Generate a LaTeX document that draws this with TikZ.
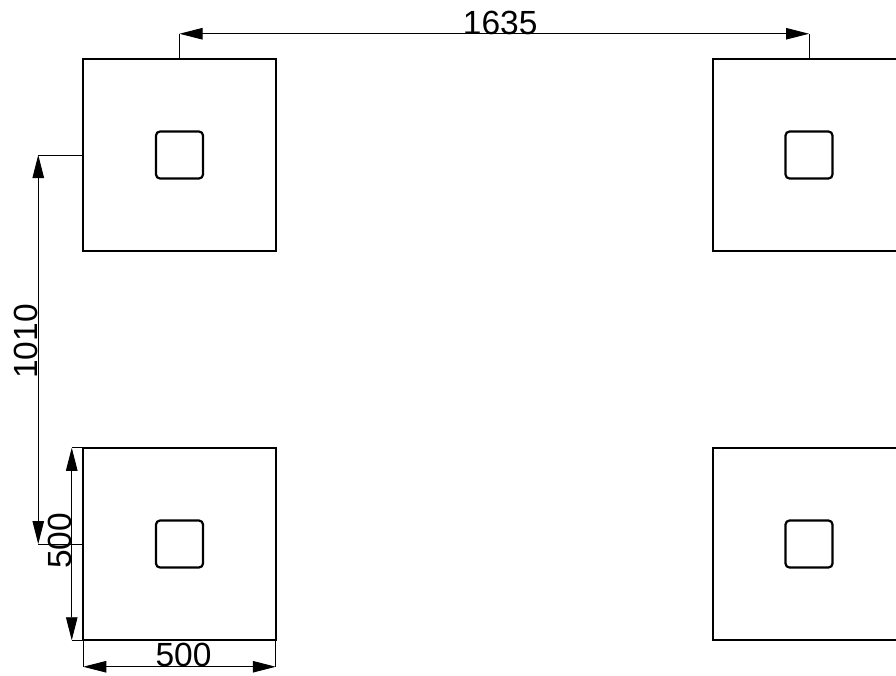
\documentclass[tikz,border=0pt]{standalone}
\usepackage{fontspec}
\setmainfont{Liberation Sans}
\usetikzlibrary{arrows.meta, calc}

\begin{document}
\begin{tikzpicture}[
            >={Triangle[width=11.5pt,length=23pt]},
                footing/.style = {rectangle, draw=black, line width=2.2pt,
                            minimum size=192.5pt, inner sep=0pt, outer sep=0pt},
                column/.style = {rectangle, rounded corners=4pt, draw=black, line width=2.2pt,
                            minimum size=47pt, inner sep=0pt, outer sep=0pt},
                dimline/.style = {draw=black, line width=0.9pt},
                dimtext/.style = {font=\fontsize{33.5}{33.5}\selectfont, inner sep=0pt, outer sep=0pt},
            node distance=389pt]
            \useasboundingbox (0pt,0pt) rectangle (896pt,-675pt);
            \clip (0pt,0pt) rectangle (896pt,-675pt);
            \node (fa) [footing] at (179.5pt,-155pt) {};
            \node (fb) [footing] at (809pt,-155pt) {};
            \node (fc) [footing, below of=fa] {};
            \node (fd) [footing, below of=fb] {};
            \node (ca) [column] at (fa) {};
            \node (cb) [column] at (fb) {};
            \node (cc) [column] at (fc) {};
            \node (cd) [column] at (fd) {};
            \coordinate (topl) at ([yshift=25pt]fa.north);
            \coordinate (topr) at ([yshift=25pt]fb.north);
            \coordinate (leftu) at ([xshift=-45pt]fa.west);
            \coordinate (leftd) at ([xshift=-45pt]fc.west);
            \coordinate (sideu) at ([xshift=-11.5pt]fc.north west);
            \coordinate (sided) at ([xshift=-11.5pt]fc.south west);
            \coordinate (botl) at ([yshift=-26.5pt]fc.south west);
            \coordinate (botr) at ([yshift=-26.5pt]fc.south east);
            \draw[dimline] (fa.north) -- (topl);
            \draw[dimline] (fb.north) -- (topr);
            \draw[dimline] (fa.west) -- (leftu);
            \draw[dimline] (fc.west) -- (leftd);
            \draw[dimline] (fc.north west) -- (sideu);
            \draw[dimline] (fc.south west) -- (sided);
            \draw[dimline] (fc.south west) -- (botl);
            \draw[dimline] (fc.south east) -- (botr);
            \draw[dimline, <->] (topl) -- (topr);
            \draw[dimline, <->] (leftu) -- (leftd);
            \draw[dimline, <->] (sideu) -- (sided);
            \draw[dimline, <->] (botl) -- (botr);
            \node (ltop) [dimtext, anchor=south] at ([xshift=6pt, yshift=-1pt]$(topl)!0.5!(topr)$) {1635};
            \node (lleft) [dimtext, rotate=90, anchor=south] at ([yshift=8pt]$(leftu)!0.5!(leftd)$) {1010};
            \node (lside) [dimtext, rotate=90, anchor=south] at ([yshift=3pt]$(sideu)!0.5!(sided)$) {500};
            \node (lbot) [dimtext, anchor=south] at ([xshift=4pt]$(botl)!0.5!(botr)$) {500};
        \end{tikzpicture}
\end{document}
